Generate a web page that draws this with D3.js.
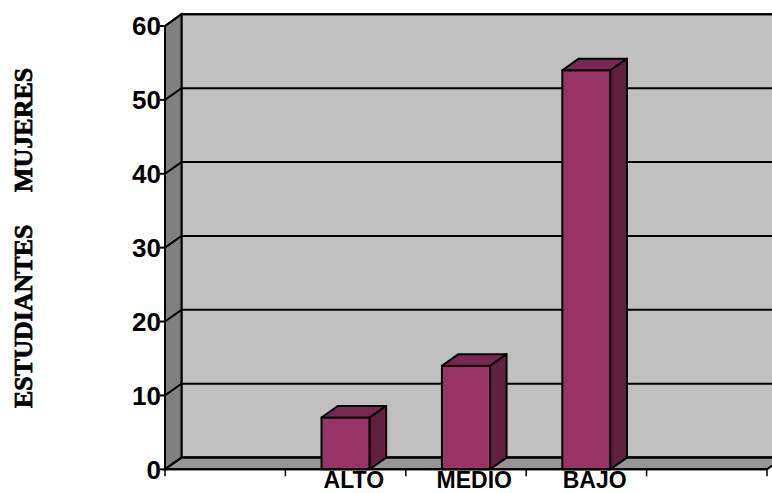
<!DOCTYPE html>
<html>
<head>
<meta charset="utf-8">
<script src="https://cdn.jsdelivr.net/npm/d3@7"></script>
<style>
  html, body { margin: 0; padding: 0; background: #ffffff; }
  svg { display: block; }
</style>
</head>
<body>
<svg id="chart" width="772" height="493"></svg>
<script>
// ---- data ----
const slotLabels = ["", "ALTO", "MEDIO", "BAJO", ""];
const slotValues = [null, 7, 14, 54, null];
const yTicks = [0, 10, 20, 30, 40, 50, 60];
const axisTitle = "ESTUDIANTES     MUJERES";

// ---- layout ----
const x0 = 165, x1 = 767;
const dx = 16.5, dy = -11.7;
const svg = d3.select("#chart");

const x = d3.scaleBand()
  .domain(d3.range(slotLabels.length))
  .range([x0, x1])
  .paddingInner(0.6)
  .paddingOuter(0.3);

const y = d3.scaleLinear().domain([0, 60]).range([469.3, 26]);

const line = d3.line();
const poly = pts => line(pts) + "Z";

// back wall
svg.append("path")
  .attr("d", poly([[x0 + dx, y(60) + dy], [x1 + dx, y(60) + dy], [x1 + dx, y(0) + dy], [x0 + dx, y(0) + dy]]))
  .attr("fill", "#c0c0c0").attr("stroke", "#000").attr("stroke-width", 2);

// left side wall
svg.append("path")
  .attr("d", poly([[x0, y(0)], [x0 + dx, y(0) + dy], [x0 + dx, y(60) + dy], [x0, y(60)]]))
  .attr("fill", "#808080").attr("stroke", "#000").attr("stroke-width", 2);

// floor
svg.append("path")
  .attr("d", poly([[x0, y(0)], [x1, y(0)], [x1 + dx, y(0) + dy], [x0 + dx, y(0) + dy]]))
  .attr("fill", "#969696").attr("stroke", "#000").attr("stroke-width", 2);

// gridlines (left wall diagonal + back wall horizontal)
const grid = svg.append("g").attr("stroke", "#000").attr("stroke-width", 2).attr("fill", "none");
yTicks.forEach(t => {
  grid.append("path").attr("d", line([[x0, y(t)], [x0 + dx, y(t) + dy], [x1 + dx, y(t) + dy]]));
  grid.append("line").attr("x1", x0 - 5).attr("x2", x0).attr("y1", y(t)).attr("y2", y(t));
});

// bars
const bars = svg.append("g").attr("stroke", "#000").attr("stroke-width", 2).attr("stroke-linejoin", "round");
slotValues.forEach((v, i) => {
  if (v == null) return;
  const a = x(i), b = x(i) + x.bandwidth();
  const yt = y(v), yb = y(0);
  bars.append("path").attr("fill", "#993366")
    .attr("d", poly([[a, yt], [b, yt], [b, yb], [a, yb]]));
  bars.append("path").attr("fill", "#7a2853")
    .attr("d", poly([[a, yt], [a + dx, yt + dy], [b + dx, yt + dy], [b, yt]]));
  bars.append("path").attr("fill", "#622040")
    .attr("d", poly([[b, yt], [b + dx, yt + dy], [b + dx, yb + dy], [b, yb]]));
});

// front axes
const ax = svg.append("g").attr("stroke", "#000").attr("stroke-width", 2);
ax.append("line").attr("x1", x0).attr("x2", x0).attr("y1", y(0)).attr("y2", y(60));
ax.append("line").attr("x1", x0).attr("x2", x1).attr("y1", y(0)).attr("y2", y(0));
const bounds = d3.range(slotLabels.length).map(i => x(i) - x.step() * x.paddingInner() / 2).concat([x1]);
bounds[0] = x0;
bounds.forEach(bx => {
  ax.append("line").attr("x1", bx).attr("x2", bx).attr("y1", y(0)).attr("y2", y(0) + 7).attr("stroke-width", 1.5);
});

// y tick labels
svg.append("g").selectAll("text").data(yTicks).join("text")
  .attr("x", 161).attr("y", d => y(d)).attr("dy", "0.36em")
  .attr("text-anchor", "end")
  .attr("font-family", "'Liberation Sans', Arial, sans-serif")
  .attr("font-weight", "bold").attr("font-size", 26)
  .text(d => d);

// x labels
svg.append("g").selectAll("text").data(slotLabels).join("text")
  .attr("x", (d, i) => x(i) + x.bandwidth() / 2 + dx / 2)
  .attr("y", 488)
  .attr("text-anchor", "middle")
  .attr("font-family", "'Liberation Sans', Arial, sans-serif")
  .attr("font-weight", "bold").attr("font-size", 23)
  .text(d => d);

// axis title
svg.append("text")
  .attr("transform", "translate(32,408) rotate(-90)")
  .attr("text-anchor", "start")
  .attr("font-family", "'Liberation Serif', 'Times New Roman', serif")
  .attr("font-weight", "bold").attr("font-size", 26)
  .attr("stroke", "#000").attr("stroke-width", 0.7)
  .style("white-space", "pre")
  .text(axisTitle);
</script>
</body>
</html>
